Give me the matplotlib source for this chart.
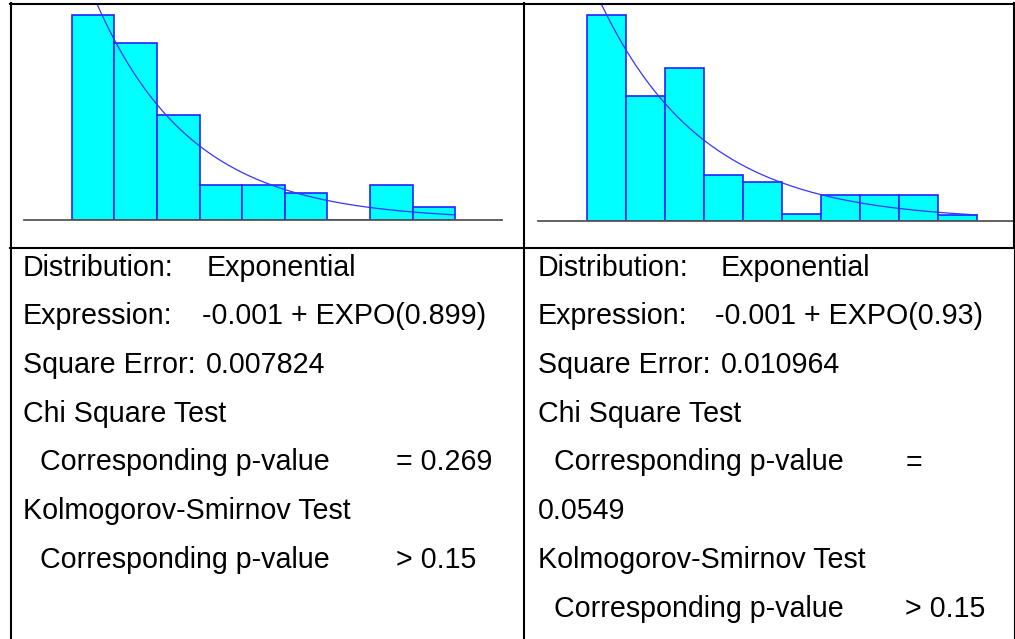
import numpy as np
import matplotlib
matplotlib.use('Agg')
import matplotlib.pyplot as plt

plt.rcParams['font.family'] = ['Liberation Sans', 'DejaVu Sans']

# fitted histograms (relative frequency per bin)
left_width = 0.4
left_freq = [0.324, 0.279, 0.166, 0.056, 0.056, 0.043, 0.0, 0.056, 0.021]
left_beta = 0.899
right_width = 0.35
right_freq = [0.312, 0.189, 0.231, 0.069, 0.059, 0.0095, 0.039, 0.039, 0.039, 0.009]
right_beta = 0.93
offset = -0.001

# summary rows: (text, x pixel) per line
left_rows = [
    [('Distribution:', 23), ('Exponential', 207)],
    [('Expression:', 23), ('-0.001 + EXPO(0.899)', 202)],
    [('Square Error:', 23), ('0.007824', 206)],
    [('Chi Square Test', 23)],
    [('Corresponding p-value', 40), ('= 0.269', 396)],
    [('Kolmogorov-Smirnov Test', 23)],
    [('Corresponding p-value', 40), ('> 0.15', 396)],
]
right_rows = [
    [('Distribution:', 538), ('Exponential', 721)],
    [('Expression:', 538), ('-0.001 + EXPO(0.93)', 715)],
    [('Square Error:', 538), ('0.010964', 721)],
    [('Chi Square Test', 538)],
    [('Corresponding p-value', 554), ('=', 906)],
    [('0.0549', 538)],
    [('Kolmogorov-Smirnov Test', 538)],
    [('Corresponding p-value', 554), ('> 0.15', 905)],
]

W, H = 1015, 639
fig = plt.figure(figsize=(W / 100, H / 100), dpi=100)
fig.patch.set_facecolor('white')


def px_axes(x0, y0, x1, y1):
    return fig.add_axes([x0 / W, (H - y1) / H, (x1 - x0) / W, (y1 - y0) / H])


def histo(ax, freq, width, beta, xlim, ytop):
    edges = np.arange(len(freq) + 1) * width
    ax.bar(edges[:-1], freq, width=width, align='edge', color='#00ffff',
           edgecolor='#2323ff', linewidth=1.2, zorder=1)
    x = np.linspace(0, edges[-1], 400)
    y = width / beta * np.exp(-(x - offset) / beta)
    ax.plot(x, y, color='#3535ff', lw=0.9, zorder=2)
    ax.set_xlim(*xlim)
    ax.set_ylim(0, ytop)
    for s in ['top', 'left', 'right']:
        ax.spines[s].set_visible(False)
    ax.spines['bottom'].set_color('#555555')
    ax.spines['bottom'].set_linewidth(1.3)
    ax.spines['bottom'].set_zorder(3)
    ax.set_xticks([])
    ax.set_yticks([])
    ax.patch.set_alpha(0)


ax1 = px_axes(24, 5, 502, 220)
histo(ax1, left_freq, left_width, left_beta, (-0.4476, 4.038), 215 / 633)
ax2 = px_axes(538, 5, 1013, 220.7)
histo(ax2, right_freq, right_width, right_beta, (-0.4424, 3.820), 215.7 / 660)

# table grid and text
tab = fig.add_axes([0, 0, 1, 1], zorder=5)
tab.set_xlim(0, W)
tab.set_ylim(H, 0)
tab.axis('off')
tab.patch.set_alpha(0)
lw = 1.5
tab.plot([10, W], [4, 4], color='black', lw=lw)
tab.plot([10, W], [248, 248], color='black', lw=lw)
tab.plot([11, 11], [3, H], color='black', lw=lw)
tab.plot([524, 524], [3, H], color='black', lw=lw)
tab.plot([1014, 1014], [3, 248], color='black', lw=lw)
tab.plot([1014, 1014], [248, H], color='black', lw=0.8)

for rows in (left_rows, right_rows):
    for k, row in enumerate(rows):
        yb = 275.7 + 48.7 * k
        for txt, xp in row:
            tab.text(xp, yb, txt, fontsize=20.6, va='baseline', ha='left', color='black')

fig.savefig('out.png', dpi=100)
